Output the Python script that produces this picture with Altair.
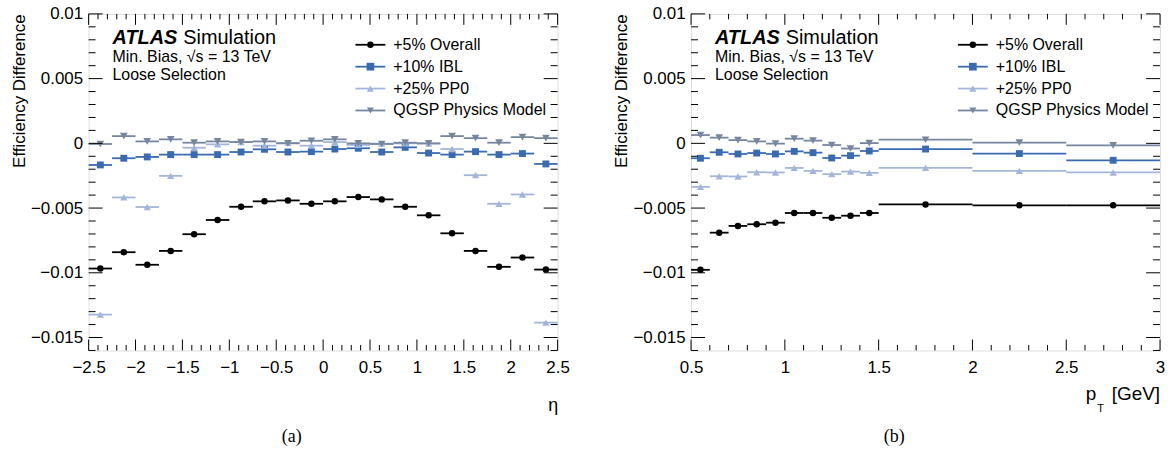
import altair as alt
import pandas as pd

# ---------------- data ----------------
series_names = ["+5% Overall", "+10% IBL", "+25% PP0", "QGSP Physics Model"]
series_colors = ["#000000", "#3a6bb0", "#a3b6d9", "#77869f"]
series_shapes = ["circle", "square", "triangle-up", "triangle-down"]
series_sizes = [42, 60, 50, 50]

eta_edges = [-2.5, -2.25, -2.0, -1.75, -1.5, -1.25, -1.0, -0.75, -0.5, -0.25, 0.0,
             0.25, 0.5, 0.75, 1.0, 1.25, 1.5, 1.75, 2.0, 2.25, 2.5]
eta_overall = [-0.00967, -0.00841, -0.00938, -0.00831, -0.00702, -0.00592, -0.00490,
               -0.00448, -0.00441, -0.00467, -0.00448, -0.00415, -0.00433, -0.00490,
               -0.00556, -0.00695, -0.00831, -0.00954, -0.00882, -0.00975]
eta_ibl = [-0.00167, -0.00115, -0.00105, -0.00087, -0.00087, -0.00087, -0.00067,
           -0.00046, -0.00067, -0.00064, -0.00044, -0.00038, -0.00067, -0.00031,
           -0.00075, -0.00087, -0.00064, -0.00087, -0.00079, -0.00159]
eta_pp0 = [-0.01323, -0.00418, -0.00492, -0.00251, -0.00034, -0.00008, 0.00010,
           -0.00018, 0.00003, -0.00018, 0.00010, -0.00012, -0.00002, 0.00000,
           -0.00002, -0.00044, -0.00246, -0.00467, -0.00395, -0.01385]
eta_qgsp = [-0.00005, 0.00056, 0.00015, 0.00031, 0.00005, 0.00015, 0.00010,
            0.00015, 0.00000, 0.00020, 0.00031, 0.00000, -0.00005, 0.00005,
            0.00000, 0.00056, 0.00040, 0.00005, 0.00048, 0.00040]

pt_edges = [0.5, 0.6, 0.7, 0.8, 0.9, 1.0, 1.1, 1.2, 1.3, 1.4, 1.5, 2.0, 2.5, 3.0]
pt_overall = [-0.00977, -0.00690, -0.00638, -0.00625, -0.00613, -0.00538, -0.00538,
              -0.00575, -0.00559, -0.00538, -0.00472, -0.00479, -0.00479]
pt_ibl = [-0.00115, -0.00069, -0.00082, -0.00075, -0.00082, -0.00062, -0.00072,
          -0.00113, -0.00095, -0.00059, -0.00044, -0.00079, -0.00131]
pt_pp0 = [-0.00336, -0.00254, -0.00256, -0.00223, -0.00225, -0.00190, -0.00213,
          -0.00238, -0.00218, -0.00228, -0.00190, -0.00213, -0.00225]
pt_qgsp = [0.00064, 0.00044, 0.00025, 0.00015, -0.00002, 0.00036, 0.00021,
           -0.00013, -0.00040, 0.00002, 0.00028, 0.00005, -0.00015]

y_major = [-0.015, -0.01, -0.005, 0.0, 0.005, 0.01]
eta_major = [-2.5, -2.0, -1.5, -1.0, -0.5, 0.0, 0.5, 1.0, 1.5, 2.0, 2.5]
pt_major = [0.5, 1.0, 1.5, 2.0, 2.5, 3.0]

# ---------------- layout constants ----------------
W, H = 471, 338
Y_DOM = [-0.016, 0.01]
FONT = "Liberation Sans"
MINUS = "replace(datum.label, '-', '\u2212')"

y_minor = [round(-0.016 + 0.001 * k, 3) for k in range(27)]
eta_minor = [round(-2.5 + 0.1 * k, 2) for k in range(51)]
pt_minor = [round(0.5 + 0.1 * k, 2) for k in range(26)]

color_scale = alt.Scale(domain=series_names, range=series_colors)
shape_scale = alt.Scale(domain=series_names, range=series_shapes)
size_scale = alt.Scale(domain=series_names, range=series_sizes)
yscale = alt.Scale(domain=Y_DOM, nice=False, zero=False)


def make_df(edges, vals_list):
    rows = []
    for name, vals in zip(series_names, vals_list):
        for i, v in enumerate(vals):
            rows.append({"series": name, "lo": edges[i], "hi": edges[i + 1],
                         "mid": (edges[i] + edges[i + 1]) / 2, "val": v})
    return pd.DataFrame(rows)


def one_row():
    return pd.DataFrame({"a": [0]})


def text_layer(txt, x, y, size=15, align="left", baseline="alphabetic",
               weight="normal", style="normal", font=FONT):
    return alt.Chart(one_row()).mark_text(
        text=txt, align=align, baseline=baseline, fontSize=size,
        fontWeight=weight, fontStyle=style, font=font, color="black"
    ).encode(x=alt.value(x), y=alt.value(y))


def panel(edges, vals_list, xdom, xmajor, xminor, xtitle, caption, pt_title=False):
    df = make_df(edges, vals_list)
    xscale = alt.Scale(domain=xdom, nice=False, zero=False)

    bars = alt.Chart(df).mark_rule(strokeWidth=1.8).encode(
        x=alt.X("lo:Q", scale=xscale,
                axis=alt.Axis(values=xmajor, format="~g", labelExpr=MINUS,
                              ticks=False, tickSize=0, labelFlush=False,
                              labelOverlap=False,
                              domain=False, grid=False, labelFontSize=17,
                              labelPadding=9, labelFont=FONT, labelColor="black",
                              title=xtitle, titleFontSize=18, titleFont=FONT,
                              titleFontWeight="normal", titleColor="black",
                              titleAnchor="end", titlePadding=21)),
        x2="hi:Q",
        y=alt.Y("val:Q", scale=yscale,
                axis=alt.Axis(values=y_major, format="~g", labelExpr=MINUS,
                              ticks=False, tickSize=0, labelFlush=False,
                              labelOverlap=False,
                              domain=False, grid=False, labelFontSize=17,
                              labelPadding=6, labelFont=FONT, labelColor="black",
                              title="Efficiency Difference", titleFontSize=17,
                              titleFont=FONT, titleFontWeight="normal",
                              titleColor="black", titleAnchor="end",
                              titlePadding=2)),
        color=alt.Color("series:N", scale=color_scale, legend=None),
    )
    pts = alt.Chart(df).mark_point(filled=True, opacity=1).encode(
        x=alt.X("mid:Q", scale=xscale),
        y=alt.Y("val:Q", scale=yscale),
        color=alt.Color("series:N", scale=color_scale, legend=None),
        shape=alt.Shape("series:N", scale=shape_scale, legend=None),
        size=alt.Size("series:N", scale=size_scale, legend=None),
    )

    layers = [bars, pts]

    # inward ticks (ROOT style) on all four sides
    ymaj = pd.DataFrame({"v": y_major})
    ymin = pd.DataFrame({"v": [v for v in y_minor if v not in y_major]})
    xmaj = pd.DataFrame({"v": xmajor})
    xmin = pd.DataFrame({"v": [v for v in xminor if v not in xmajor]})
    for d, ln in ((ymaj, 14), (ymin, 7)):
        for x0, x1 in ((0, ln), (W - ln, W)):
            layers.append(alt.Chart(d).mark_rule(color="black", strokeWidth=1).encode(
                y=alt.Y("v:Q", scale=yscale), x=alt.value(x0), x2=alt.value(x1)))
    for d, ln in ((xmaj, 11), (xmin, 5.5)):
        for y0, y1 in ((H - ln, H), (0, ln)):
            layers.append(alt.Chart(d).mark_rule(color="black", strokeWidth=1).encode(
                x=alt.X("v:Q", scale=xscale), y=alt.value(y0), y2=alt.value(y1)))

    # ATLAS label
    layers.append(text_layer("ATLAS", 24, 30, size=20, weight="bold", style="italic"))
    layers.append(text_layer("Simulation", 95, 30, size=20))
    layers.append(text_layer("Min. Bias, √s = 13 TeV", 24, 48, size=16))
    layers.append(text_layer("Loose Selection", 24, 66, size=16))

    # legend
    for i, (nm, col, shp, sz) in enumerate(zip(series_names, series_colors,
                                               series_shapes, series_sizes)):
        yy = 31 + 22 * i
        layers.append(alt.Chart(one_row()).mark_rule(color=col, strokeWidth=1.8).encode(
            x=alt.value(268), x2=alt.value(298), y=alt.value(yy)))
        layers.append(alt.Chart(one_row()).mark_point(
            filled=True, opacity=1, color=col, shape=shp, size=sz).encode(
            x=alt.value(283), y=alt.value(yy)))
        layers.append(text_layer(nm, 306, yy, size=16, baseline="middle"))

    if pt_title:
        layers.append(text_layer("[GeV]", W, 388, size=19, align="right"))
        layers.append(text_layer("p", W - 64, 388, size=19, align="right"))
        layers.append(text_layer("T", W - 63, 400, size=11, align="left"))

    layers.append(text_layer(caption, 204, 430, size=18, align="center",
                             font="Liberation Serif"))

    return alt.layer(*layers).properties(width=W, height=H)


left = panel(eta_edges, [eta_overall, eta_ibl, eta_pp0, eta_qgsp], [-2.5, 2.5],
             eta_major, eta_minor, "η", "(a)")
right = panel(pt_edges, [pt_overall, pt_ibl, pt_pp0, pt_qgsp], [0.5, 3.0],
              pt_major, pt_minor, None, "(b)", pt_title=True)

chart = alt.hconcat(left, right, spacing=42).properties(
    padding={"left": 10, "top": 3, "right": 5, "bottom": 0}
).configure_view(stroke="black", strokeWidth=1.5).configure(background="white")

chart.save("out.html", embed_options={"renderer": "svg", "actions": False})
